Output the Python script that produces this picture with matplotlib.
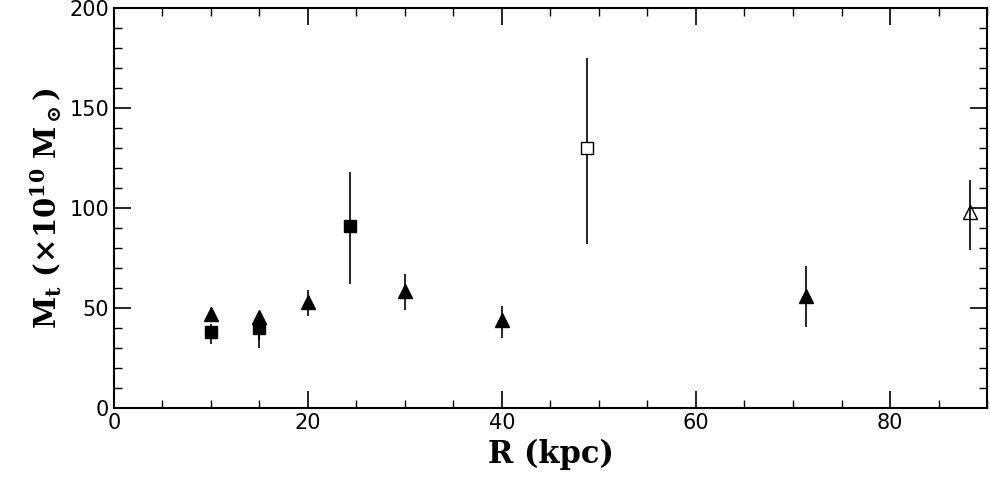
import matplotlib
matplotlib.use("Agg")
import matplotlib.pyplot as plt
from matplotlib.ticker import MultipleLocator

plt.rcParams['mathtext.fontset'] = 'dejavuserif'

# filled triangles
tri_r = [10, 15, 20, 30, 40, 71.3]
tri_m = [47, 45.5, 53, 58.5, 44, 56]
tri_lo = [44, 30, 46, 49, 35, 40.5]
tri_hi = [50, 48, 59, 67, 51, 71]
# filled squares
sq_r = [10, 15, 24.3]
sq_m = [38, 40, 91]
sq_lo = [32, 34, 62]
sq_hi = [42, 44, 118]
# open square
osq_r = [48.8]; osq_m = [130]; osq_lo = [82]; osq_hi = [175]
# open triangle
otri_r = [88.2]; otri_m = [98]; otri_lo = [79]; otri_hi = [114]

fig = plt.figure(figsize=(9.9, 5), dpi=100)
ax = fig.add_axes([0.115, 0.184, 0.882, 0.8])

def eb(r, m, lo, hi, marker, fc, ms):
    yerr = [[a - b for a, b in zip(m, lo)], [b - a for a, b in zip(m, hi)]]
    ax.errorbar(r, m, yerr=yerr, fmt='none', ecolor='black', elinewidth=1.2, capsize=0)
    ax.plot(r, m, linestyle='none', marker=marker, markersize=ms,
            markerfacecolor=fc, markeredgecolor='black', markeredgewidth=1)

eb(tri_r, tri_m, tri_lo, tri_hi, '^', 'black', 10)
eb(sq_r, sq_m, sq_lo, sq_hi, 's', 'black', 9)
eb(osq_r, osq_m, osq_lo, osq_hi, 's', 'white', 8)
eb(otri_r, otri_m, otri_lo, otri_hi, '^', 'none', 10)

ax.set_xlim(0, 90)
ax.set_ylim(0, 200)
ax.xaxis.set_major_locator(MultipleLocator(20))
ax.xaxis.set_minor_locator(MultipleLocator(5))
ax.yaxis.set_major_locator(MultipleLocator(50))
ax.yaxis.set_minor_locator(MultipleLocator(10))
ax.tick_params(which='both', direction='in', top=True, right=True, labelsize=15)
ax.tick_params(which='major', length=12, width=1.2)
ax.tick_params(which='minor', length=6, width=1)
for s in ax.spines.values():
    s.set_linewidth(1.5)
ax.set_xlabel('R (kpc)', fontsize=22, fontweight='bold', family='DejaVu Serif')
ax.set_ylabel(r'$\mathbf{M_t}$ $\mathbf{(\times10^{10}\ M_\odot)}$', fontsize=21,
              fontweight='bold', family='DejaVu Serif')
fig.savefig('out.png', dpi=100)
